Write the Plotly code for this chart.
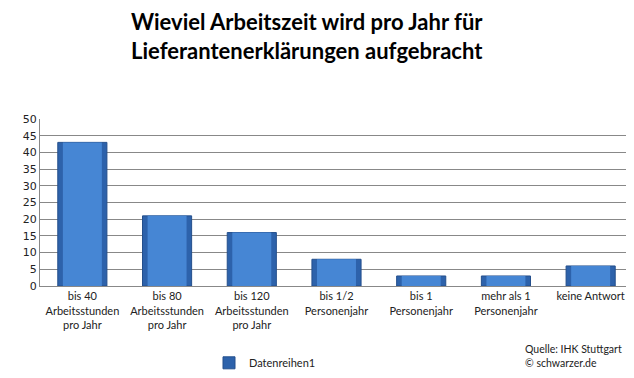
import plotly.graph_objects as go

categories = [
    "bis 40<br>Arbeitsstunden<br>pro Jahr",
    "bis 80<br>Arbeitsstunden<br>pro Jahr",
    "bis 120<br>Arbeitsstunden<br>pro Jahr",
    "bis 1/2<br>Personenjahr",
    "bis 1<br>Personenjahr",
    "mehr als 1<br>Personenjahr",
    "keine Antwort",
]
values = [43, 21, 16, 8, 3, 3, 6]
series_name = "Datenreihen1"
y_ticks = [0, 5, 10, 15, 20, 25, 30, 35, 40, 45, 50]

fig = go.Figure()
fig.add_trace(go.Bar(
    x=categories, y=values, name=series_name, width=0.58,
    marker=dict(color="#2d62ab", line=dict(color="#244f8c", width=1)),
    showlegend=True,
))
fig.add_trace(go.Bar(
    x=categories, y=values, name=series_name, width=0.46,
    marker=dict(color="#4686d4", line=dict(width=0)),
    showlegend=False, hoverinfo="skip",
))

fig.update_layout(
    width=634, height=378,
    margin=dict(l=32, r=9, t=111, b=95),
    paper_bgcolor="white", plot_bgcolor="white",
    barmode="overlay",
    showlegend=True,
    legend=dict(
        orientation="h", x=0.285, xanchor="left", y=-0.46, yanchor="middle",
        font=dict(family="Lato", size=11, color="#222"),
    ),
    annotations=[
        dict(text="<b>Wieviel Arbeitszeit wird pro Jahr für<br>Lieferantenerklärungen aufgebracht</b>",
             xref="paper", yref="paper", x=0.45, y=1.495, xanchor="center", yanchor="middle",
             showarrow=False, align="center",
             font=dict(family="Lato", size=22, color="black")),
        dict(text="Quelle: IHK Stuttgart<br>© schwarzer.de", xref="paper", yref="paper",
             x=0.985, y=-0.33, xanchor="right", yanchor="top", align="left", showarrow=False,
             font=dict(family="Lato", size=10.5, color="#222")),
    ],
)
fig.update_xaxes(
    showline=True, linecolor="#888", linewidth=1, ticks="", showgrid=False,
    tickfont=dict(family="Lato", size=11, color="#222"),
)
fig.update_yaxes(
    range=[0, 50], tickvals=y_ticks, showline=True, linecolor="#888", linewidth=1,
    showgrid=True, gridcolor="#888", gridwidth=1, ticks="", zeroline=False,
    tickfont=dict(family="DejaVu Sans", size=11, color="#222"),
)

fig.write_html("out.html")
